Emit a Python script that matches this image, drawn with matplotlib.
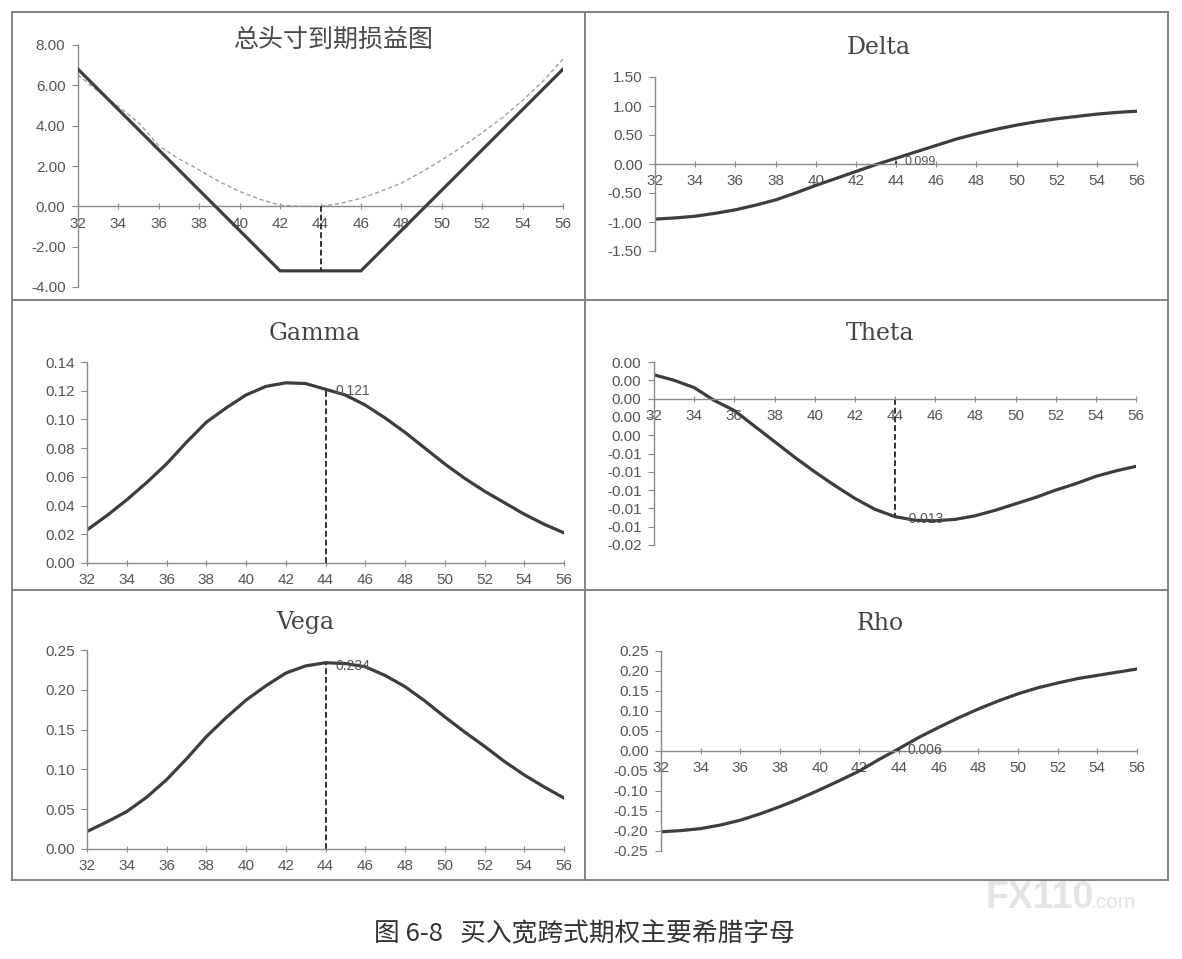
import matplotlib
matplotlib.use('Agg')
import matplotlib.pyplot as plt
from matplotlib.lines import Line2D
from matplotlib.ticker import FormatStrFormatter, FixedLocator, FixedFormatter

# ---------------- data ----------------
S = list(range(32, 57))
x_ticks = list(range(32, 57, 2))

payoff_x = [32, 42, 46, 56]
payoff_y = [6.8, -3.2, -3.2, 6.8]
value_y = [6.52, 5.70, 4.95, 4.15, 3.00, 2.35, 1.80, 1.22, 0.74, 0.35, 0.06, 0.00, 0.00,
           0.15, 0.40, 0.75, 1.15, 1.70, 2.30, 2.95, 3.65, 4.40, 5.25, 6.20, 7.30]

delta = [-0.95, -0.93, -0.90, -0.85, -0.79, -0.71, -0.62, -0.50, -0.37, -0.25, -0.13, -0.01, 0.099,
         0.21, 0.32, 0.43, 0.52, 0.60, 0.67, 0.73, 0.78, 0.82, 0.86, 0.89, 0.91]
gamma = [0.023, 0.033, 0.044, 0.056, 0.069, 0.084, 0.098, 0.108, 0.117, 0.123, 0.1255, 0.125, 0.121,
         0.117, 0.110, 0.101, 0.091, 0.080, 0.069, 0.059, 0.050, 0.042, 0.034, 0.027, 0.021]
theta = [0.0026, 0.0020, 0.0012, -0.0002, -0.0013, -0.0030, -0.0047, -0.0064, -0.0080, -0.0095,
         -0.0109, -0.0121, -0.0129, -0.0133, -0.01335, -0.0132, -0.0128, -0.0122, -0.0115, -0.0108,
         -0.0100, -0.0093, -0.0085, -0.0079, -0.0074]
vega = [0.022, 0.034, 0.047, 0.065, 0.087, 0.113, 0.141, 0.165, 0.187, 0.205, 0.221, 0.230, 0.234,
        0.233, 0.229, 0.218, 0.204, 0.186, 0.166, 0.147, 0.129, 0.110, 0.093, 0.078, 0.064]
rho = [-0.202, -0.199, -0.194, -0.185, -0.173, -0.157, -0.139, -0.119, -0.097, -0.074, -0.050, -0.021,
       0.006, 0.034, 0.059, 0.083, 0.105, 0.125, 0.143, 0.158, 0.170, 0.181, 0.189, 0.197, 0.205]

spot = 44
payoff_at_spot = -3.2
delta_at_spot, gamma_at_spot, theta_at_spot, vega_at_spot, rho_at_spot = 0.099, 0.121, -0.013, 0.234, 0.006

theta_ticks = [0.004, 0.002, 0.0, -0.002, -0.004, -0.006, -0.008, -0.010, -0.012, -0.014, -0.016]
theta_ticklabels = ['0.00', '0.00', '0.00', '0.00', '0.00', '-0.01', '-0.01', '-0.01', '-0.01', '-0.01', '-0.02']

titles = ['总头寸到期损益图', 'Delta', 'Gamma', 'Theta', 'Vega', 'Rho']
caption = '图 6-8   买入宽跨式期权主要希腊字母'

# ---------------- figure ----------------
W, H = 1182, 959
fig = plt.figure(figsize=(W / 100, H / 100), dpi=100)
fig.patch.set_facecolor('white')
plt.rcParams['font.family'] = ['Liberation Sans', 'DejaVu Sans']

LINE = '#3d3d3d'
AX = '#8a8a8a'
TXT = '#555555'
TICK_FS = 11


def rect(x0, yt, x1, yb):
    return [x0 / W, 1 - yb / H, (x1 - x0) / W, (yb - yt) / H]


def fx(x):
    return x / W


def fy(y):
    return 1 - y / H


# panel frames
frame_kw = dict(color='#7a7a7a', lw=1.3, transform=fig.transFigure)
for (xa, ya, xb, yb) in [(12, 12, 1168, 12), (12, 880, 1168, 880), (12, 12, 12, 880), (1168, 12, 1168, 880),
                         (585, 12, 585, 880), (12, 300, 1168, 300), (12, 590, 1168, 590)]:
    fig.add_artist(Line2D([fx(xa), fx(xb)], [fy(ya), fy(yb)], **frame_kw))


def style(ax, ylim, yticks, fmt, zero_axis=True):
    ax.set_xlim(32, 56)
    ax.set_ylim(*ylim)
    ax.set_facecolor('none')
    for s in ['top', 'right']:
        ax.spines[s].set_visible(False)
    ax.spines['left'].set_color(AX)
    ax.spines['bottom'].set_color(AX)
    ax.spines['left'].set_linewidth(1.0)
    ax.spines['bottom'].set_linewidth(1.0)
    if zero_axis:
        ax.spines['bottom'].set_position(('data', 0))
    ax.set_xticks(x_ticks)
    ax.set_yticks(yticks)
    if fmt:
        ax.yaxis.set_major_formatter(FormatStrFormatter(fmt))
    ax.tick_params(axis='x', direction='inout', length=5, width=0.8, color=AX,
                   labelsize=TICK_FS, labelcolor=TXT, pad=5)
    ax.tick_params(axis='y', direction='out', length=4, width=0.8, color=AX,
                   labelsize=TICK_FS, labelcolor=TXT, pad=5)


# Panel 1: payoff
ax1 = fig.add_axes(rect(78, 45, 563, 287))
style(ax1, (-4, 8), [-4, -2, 0, 2, 4, 6, 8], '%.2f')
ax1.plot(S, value_y, color='#a0a0a0', lw=1.0, ls=(0, (3, 2)), zorder=2)
ax1.plot(payoff_x, payoff_y, color=LINE, lw=2.3, zorder=3, solid_joinstyle='miter')
ax1.plot([spot, spot], [0, payoff_at_spot], color='#333333', lw=1.4, ls=(0, (3, 1.5)), zorder=4)

# Panel 2: Delta
ax2 = fig.add_axes(rect(655, 77, 1137, 251))
style(ax2, (-1.5, 1.5), [-1.5, -1.0, -0.5, 0, 0.5, 1.0, 1.5], '%.2f')
ax2.plot(S, delta, color=LINE, lw=2.3)
ax2.plot([spot, spot], [0, delta_at_spot], color='#333333', lw=1.2, ls=(0, (2, 1)))
ax2.annotate(f'{delta_at_spot:.3f}', (spot, delta_at_spot), xytext=(6, -3), textcoords='offset points',
             fontsize=9, color=TXT, va='center', ha='left')

# Panel 3: Gamma
ax3 = fig.add_axes(rect(87, 362, 564, 563))
style(ax3, (0, 0.14), [0, 0.02, 0.04, 0.06, 0.08, 0.10, 0.12, 0.14], '%.2f', zero_axis=False)
ax3.plot(S, gamma, color=LINE, lw=2.3)
ax3.plot([spot, spot], [0, gamma_at_spot], color='#333333', lw=1.4, ls=(0, (3, 1.5)))
ax3.annotate(f'{gamma_at_spot:.3f}', (spot, gamma_at_spot), xytext=(7, -1), textcoords='offset points',
             fontsize=10, color=TXT, va='center', ha='left')

# Panel 4: Theta
ax4 = fig.add_axes(rect(654, 362, 1136, 545))
style(ax4, (-0.016, 0.004), theta_ticks, None)
ax4.yaxis.set_major_locator(FixedLocator(theta_ticks))
ax4.yaxis.set_major_formatter(FixedFormatter(theta_ticklabels))
ax4.plot(S, theta, color=LINE, lw=2.3)
ax4.plot([spot, spot], [0, theta_at_spot], color='#333333', lw=1.4, ls=(0, (3, 1.5)))
ax4.annotate(f'{theta_at_spot:.3f}', (spot, theta_at_spot), xytext=(7, -1), textcoords='offset points',
             fontsize=10, color=TXT, va='center', ha='left')

# Panel 5: Vega
ax5 = fig.add_axes(rect(87, 650, 564, 849))
style(ax5, (0, 0.25), [0, 0.05, 0.10, 0.15, 0.20, 0.25], '%.2f', zero_axis=False)
ax5.plot(S, vega, color=LINE, lw=2.3)
ax5.plot([spot, spot], [0, vega_at_spot], color='#333333', lw=1.4, ls=(0, (3, 1.5)))
ax5.annotate(f'{vega_at_spot:.3f}', (spot, vega_at_spot), xytext=(7, -2), textcoords='offset points',
             fontsize=10, color=TXT, va='center', ha='left')

# Panel 6: Rho
ax6 = fig.add_axes(rect(661, 651, 1137, 851))
style(ax6, (-0.25, 0.25), [-0.25, -0.2, -0.15, -0.1, -0.05, 0, 0.05, 0.1, 0.15, 0.2, 0.25], '%.2f')
ax6.plot(S, rho, color=LINE, lw=2.3)
ax6.plot([spot, spot], [0, rho_at_spot], color='#333333', lw=1.2, ls=(0, (2, 1)))
ax6.annotate(f'{rho_at_spot:.3f}', (spot, rho_at_spot), xytext=(6, -1), textcoords='offset points',
             fontsize=10, color=TXT, va='center', ha='left')

# Titles
fig.text(fx(334), fy(40), titles[0], ha='center', va='center', fontsize=18,
         family=['Noto Sans CJK SC'], color='#4a4a4a')
title_pos = [(879, 47), (315, 333), (880, 333), (305, 623), (880, 623)]
for t, (px, py) in zip(titles[1:], title_pos):
    fig.text(fx(px), fy(py), t, ha='center', va='center', fontsize=17,
             family=['DejaVu Serif'], color='#444444')

# Caption
fig.text(fx(584), fy(934), caption, ha='center', va='center', fontsize=18.5,
         family=['Noto Sans CJK SC'], fontweight='light', color='#333333')

# Watermark
fig.text(fx(985), fy(898), 'FX110', ha='left', va='center', fontsize=27, fontweight='bold',
         color='#e4e4e4', family=['Liberation Sans'])
fig.text(fx(1090), fy(903), '.com', ha='left', va='center', fontsize=15,
         color='#e4e4e4', family=['Liberation Sans'])

fig.savefig('out.png', dpi=100, facecolor='white')
